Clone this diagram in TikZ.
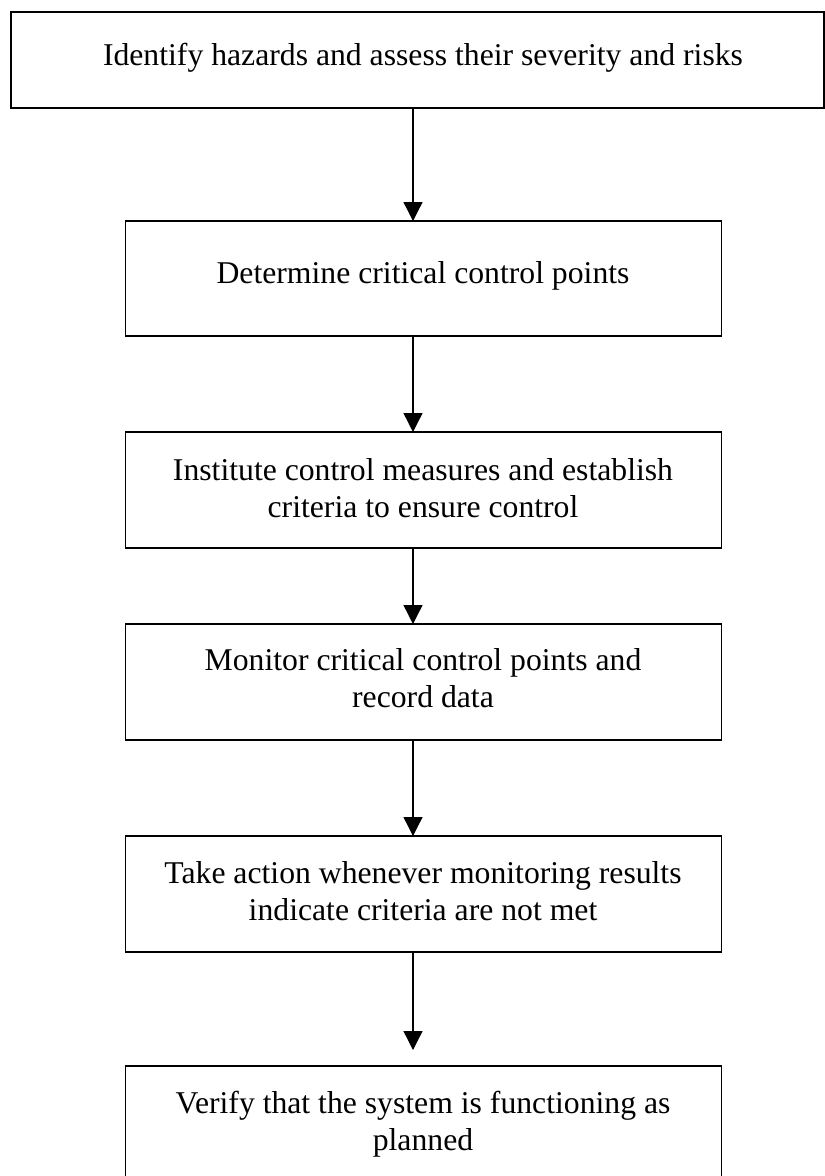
\documentclass[tikz,border=0pt]{standalone}
\usepackage{fontspec}
\setmainfont{Liberation Serif}
\usetikzlibrary{arrows.meta}

\begin{document}
\begin{tikzpicture}[x=1pt,y=-1pt,
  stepbox/.style={draw=black, line width=1.3pt, rectangle, inner sep=0pt, outer sep=0pt},
  steptext/.style={anchor=base, inner sep=0pt, align=center,
    font=\fontsize{31.7}{37}\selectfont},
  flow/.style={draw=black, line width=1.3pt,
    -{Triangle[width=19pt,length=19pt]}}]

  % page frame
  \useasboundingbox (0,0) rectangle (825,1176);
  \clip (0,0) rectangle (825,1176);

  % step boxes, placed by their top left corners
  \node[stepbox, minimum width=813pt, minimum height=96pt, anchor=north west] (b1) at (11,12) {};
  \node[stepbox, minimum width=596pt, minimum height=115pt, anchor=north west] (b2) at (125.5,221) {};
  \node[stepbox, minimum width=596pt, minimum height=116pt, anchor=north west] (b3) at (125.5,432) {};
  \node[stepbox, minimum width=596pt, minimum height=116pt, anchor=north west] (b4) at (125.5,624) {};
  \node[stepbox, minimum width=596pt, minimum height=116pt, anchor=north west] (b5) at (125.5,836) {};
  \node[stepbox, minimum width=596pt, minimum height=116pt, anchor=north west] (b6) at (125.5,1066) {};

  % step texts, each placed at the baseline of its last line
  \node[steptext] (t1) at (423,65) {Identify hazards and assess their severity and risks};
  \node[steptext] (t2) at (423,283) {Determine critical control points};
  \node[steptext] (t3) at (423,517) {Institute control measures and establish\\criteria to ensure control};
  \node[steptext] (t4) at (423,707) {Monitor critical control points and\\record data};
  \node[steptext] (t5) at (423,920) {Take action whenever monitoring results\\indicate criteria are not met};
  \node[steptext] (t6) at (423,1150) {Verify that the system is functioning as\\planned};

  % arrow column and the free end of the last arrow
  \coordinate (ax) at (413,0);
  \coordinate (lastend) at (413,1050);

  % connectors
  \draw[flow] (b1.south -| ax) -- (b2.north -| ax);
  \draw[flow] (b2.south -| ax) -- (b3.north -| ax);
  \draw[flow] (b3.south -| ax) -- (b4.north -| ax);
  \draw[flow] (b4.south -| ax) -- (b5.north -| ax);
  \draw[flow] (b5.south -| ax) -- (lastend);
\end{tikzpicture}
\end{document}
